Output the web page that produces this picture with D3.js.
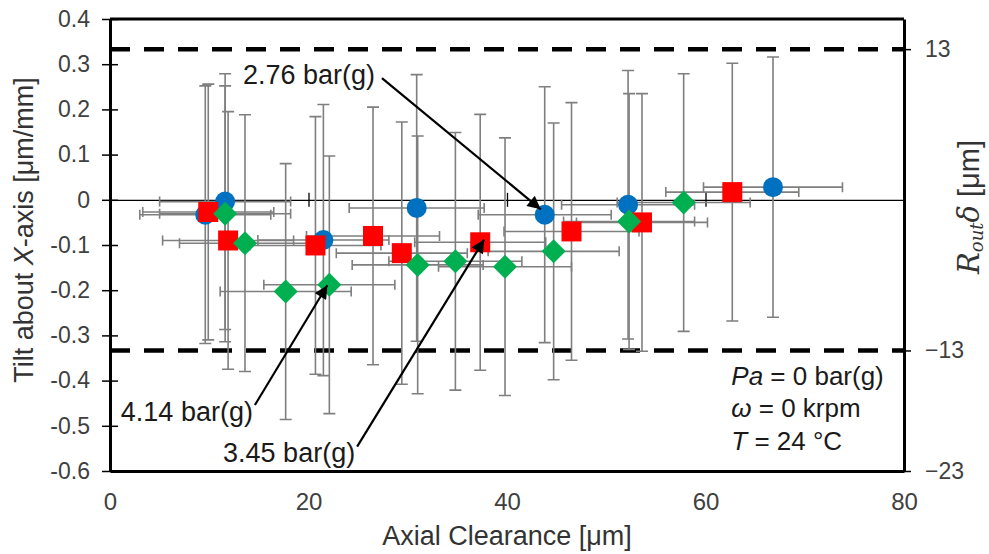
<!DOCTYPE html>
<html>
<head>
<meta charset="utf-8">
<script src="https://cdn.jsdelivr.net/npm/d3@7"></script>
<style>
  body { margin: 0; background: #fff; }
  svg { display: block; font-family: Arial, "Liberation Sans", sans-serif; }
</style>
</head>
<body>
<div id="chart"></div>
<script>
// ---- values ----
const seriesNames = ["2.76 bar(g)", "3.45 bar(g)", "4.14 bar(g)"];

// 2.76 bar(g) - blue circles
const clear276 = [9.6, 11.6, 21.5, 30.9, 43.8, 52.2, 66.8];
const tilt276 = [-0.033, -0.004, -0.089, -0.018, -0.033, -0.011, 0.028];
const clearErr276 = [6.6, 6.6, 6.6, 6.8, 6.7, 6.7, 7.0];
const tiltErr276 = [0.285, 0.283, 0.30, 0.295, 0.283, 0.297, 0.288];

// 3.45 bar(g) - red squares
const clear345 = [9.9, 11.9, 20.7, 26.5, 29.4, 37.3, 46.5, 53.6, 62.7];
const tilt345 = [-0.027, -0.090, -0.101, -0.080, -0.118, -0.094, -0.070, -0.050, 0.017];
const clearErr345 = [6.6, 6.6, 6.6, 6.7, 6.6, 6.6, 6.8, 6.6, 6.7];
const tiltErr345 = [0.283, 0.285, 0.285, 0.285, 0.29, 0.283, 0.285, 0.285, 0.285];

// 4.14 bar(g) - green diamonds
const clear414 = [11.6, 13.6, 17.7, 22.1, 31.0, 34.8, 39.8, 44.7, 52.3, 57.8];
const tilt414 = [-0.031, -0.096, -0.203, -0.188, -0.144, -0.136, -0.148, -0.114, -0.048, -0.006];
const clearErr414 = [6.6, 6.6, 6.6, 6.6, 6.6, 6.7, 6.7, 6.6, 6.6, 6.7];
const tiltErr414 = [0.283, 0.284, 0.283, 0.285, 0.285, 0.285, 0.285, 0.284, 0.283, 0.285];

// axes
const xTicks = [0, 20, 40, 60, 80];
const yTicks = [0.4, 0.3, 0.2, 0.1, 0, -0.1, -0.2, -0.3, -0.4, -0.5, -0.6];
const rightTicks = [13, -13, -23.4];
const limitLines = [13, -13];   // R_out*delta limits, right axis units

const conditions = ["Pa", " = 0 bar(g)", "ω", " = 0 krpm", "T", " = 24 °C"];

// ---- layout ----
const W = 989, H = 554;
const margin = { top: 19, right: 85, bottom: 83, left: 110 };
const width = W - margin.left - margin.right;
const height = H - margin.top - margin.bottom;

const colors = ["#0070C0", "#FF0000", "#00B050"];
const shapes = ["circle", "square", "diamond"];

const svg = d3.select("#chart").append("svg")
    .attr("width", W)
    .attr("height", H)
    .attr("viewBox", [0, 0, W, H]);

const chart = svg.append("g")
    .attr("transform", `translate(${margin.left},${margin.top})`);

const x = d3.scaleLinear().domain([0, 80]).range([0, width]);
const y = d3.scaleLinear().domain([-0.6, 0.4]).range([height, 0]);
const yR = d3.scaleLinear().domain([-23.4, 15.6]).range([height, 0]);

// build a point table from the arrays
const seriesData = [
    [clear276, tilt276, clearErr276, tiltErr276],
    [clear345, tilt345, clearErr345, tiltErr345],
    [clear414, tilt414, clearErr414, tiltErr414]
];
const points = [];
seriesData.forEach((s, si) => {
    s[0].forEach((cx, i) => {
        points.push({ series: si, name: seriesNames[si], x: cx, y: s[1][i], xe: s[2][i], ye: s[3][i] });
    });
});

// dashed limit lines
chart.selectAll(".limit")
    .data(limitLines)
    .join("line")
    .attr("class", "limit")
    .attr("x1", 0)
    .attr("x2", width)
    .attr("y1", d => yR(d))
    .attr("y2", d => yR(d))
    .attr("stroke", "#000")
    .attr("stroke-width", 4.5)
    .attr("stroke-dasharray", "20,14");

// x axis through zero
chart.append("g")
    .attr("transform", `translate(0,${y(0)})`)
    .call(d3.axisBottom(x).tickValues(xTicks).tickFormat("").tickSizeOuter(0))
    .call(g => g.select(".domain").attr("stroke-width", 1.3))
    .call(g => g.selectAll(".tick line").attr("y1", -7).attr("y2", 7).attr("stroke-width", 1.3));

// error bars (under the markers)
const eb = chart.append("g")
    .attr("stroke", "#7f7f7f")
    .attr("stroke-width", 1.6)
    .attr("fill", "none");

points.forEach(p => {
    const px = x(p.x), py = y(p.y);
    const top = y(p.y + p.ye), bot = y(p.y - p.ye);
    const left = x(p.x - p.xe), right = x(p.x + p.xe);
    eb.append("path").attr("d",
        `M${px},${top}V${bot}M${px - 6},${top}H${px + 6}M${px - 6},${bot}H${px + 6}` +
        `M${left},${py}H${right}M${left},${py - 5}V${py + 5}M${right},${py - 5}V${py + 5}`);
});

// markers
const marks = chart.append("g");
points.forEach(p => {
    const px = x(p.x), py = y(p.y);
    const shape = shapes[p.series];
    if (shape === "circle") {
        marks.append("circle").attr("cx", px).attr("cy", py).attr("r", 10).attr("fill", colors[p.series]);
    } else if (shape === "square") {
        marks.append("rect").attr("x", px - 10).attr("y", py - 10).attr("width", 20).attr("height", 20).attr("fill", colors[p.series]);
    } else {
        marks.append("path")
            .attr("d", `M${px},${py - 12}L${px + 12},${py}L${px},${py + 12}L${px - 12},${py}Z`)
            .attr("fill", colors[p.series]);
    }
});

// frame: top and bottom border
chart.append("line").attr("x1", 0).attr("x2", width).attr("y1", 0).attr("y2", 0)
    .attr("stroke", "#000").attr("stroke-width", 3);

const xAxis = chart.append("g")
    .attr("transform", `translate(0,${height})`)
    .style("color", "#000")
    .call(d3.axisBottom(x).tickValues(xTicks).tickSize(0).tickSizeOuter(0))
    .call(g => g.select(".domain").attr("stroke-width", 3));
xAxis.selectAll("text")
    .attr("dy", null)
    .attr("y", 39)
    .attr("fill", "#404040")
    .style("font-size", "24px");

// left axis
const yAxis = chart.append("g")
    .style("color", "#000")
    .call(d3.axisLeft(y).tickValues(yTicks).tickSize(8).tickPadding(12).tickSizeOuter(0)
        .tickFormat(d => String(d)))
    .call(g => g.select(".domain").attr("stroke-width", 3))
    .call(g => g.selectAll(".tick line").attr("x1", 8).attr("stroke-width", 1.5));
yAxis.selectAll("text")
    .attr("fill", "#404040")
    .style("font-size", "23px");

// right axis
const rAxis = chart.append("g")
    .attr("transform", `translate(${width},0)`)
    .style("color", "#000")
    .call(d3.axisRight(yR).tickValues(rightTicks).tickSize(7).tickPadding(14).tickSizeOuter(0)
        .tickFormat(d3.format(".0f")))
    .call(g => g.select(".domain").attr("stroke-width", 3))
    .call(g => g.selectAll(".tick line").attr("x1", -7).attr("stroke-width", 1.5));
rAxis.selectAll("text")
    .attr("fill", "#404040")
    .style("font-size", "23px");

// axis titles
svg.append("text")
    .attr("x", margin.left + width / 2)
    .attr("y", 545)
    .attr("text-anchor", "middle")
    .attr("fill", "#333")
    .style("font-size", "27px")
    .text("Axial Clearance [μm]");

const lt = svg.append("text")
    .attr("transform", "translate(33,230) rotate(-90)")
    .attr("text-anchor", "middle")
    .attr("fill", "#333")
    .style("font-size", "27px");
lt.append("tspan").text("Tilt about ");
lt.append("tspan").style("font-style", "italic").text("X");
lt.append("tspan").text("-axis [μm/mm]");

const rt = svg.append("text")
    .attr("transform", "translate(979,207) rotate(-90)")
    .attr("text-anchor", "middle")
    .attr("fill", "#333")
    .style("font-size", "29px");
rt.append("tspan").style("font-family", "'DejaVu Serif', serif").style("font-style", "italic").text("R");
rt.append("tspan").style("font-family", "'DejaVu Serif', serif").style("font-style", "italic")
    .style("font-size", "18px").attr("dy", 4).text("out");
rt.append("tspan").style("font-family", "'DejaVu Serif', serif").style("font-style", "italic")
    .attr("dy", -4).text("δ");
rt.append("tspan").text(" [μm]");

// pressure annotations (placed in data units)
const labelPos = [
    { text: seriesNames[0], tx: 26.7, ty: 0.257, from: [27.4, 0.269], to: [43.4, -0.021] },
    { text: seriesNames[1], tx: 24.7, ty: -0.579, from: [24.9, -0.546], to: [37.7, -0.088] },
    { text: seriesNames[2], tx: 14.4, ty: -0.49, from: [14.6, -0.454], to: [21.9, -0.189] }
];

svg.append("defs").append("marker")
    .attr("id", "arrow")
    .attr("viewBox", "0 0 10 10")
    .attr("refX", 10)
    .attr("refY", 5)
    .attr("markerWidth", 7)
    .attr("markerHeight", 6)
    .attr("markerUnits", "strokeWidth")
    .attr("orient", "auto")
    .append("path")
    .attr("d", "M0,0L10,5L0,10Z")
    .attr("fill", "#000");

chart.selectAll(".arrow")
    .data(labelPos)
    .join("line")
    .attr("class", "arrow")
    .attr("x1", d => x(d.from[0]))
    .attr("y1", d => y(d.from[1]))
    .attr("x2", d => x(d.to[0]))
    .attr("y2", d => y(d.to[1]))
    .attr("stroke", "#000")
    .attr("stroke-width", 2.2)
    .attr("marker-end", "url(#arrow)");

chart.selectAll(".pres-label")
    .data(labelPos)
    .join("text")
    .attr("class", "pres-label")
    .attr("x", d => x(d.tx))
    .attr("y", d => y(d.ty))
    .attr("text-anchor", "end")
    .attr("fill", "#1a1a1a")
    .style("font-size", "27px")
    .text(d => d.text);

// test conditions
const cond = chart.append("text")
    .attr("x", x(62.6))
    .attr("y", y(-0.409))
    .attr("fill", "#1a1a1a")
    .style("font-size", "26px");
for (let i = 0; i < conditions.length; i += 2) {
    cond.append("tspan")
        .attr("x", x(62.6))
        .attr("dy", i === 0 ? 0 : 32.5)
        .style("font-style", "italic")
        .text(conditions[i]);
    cond.append("tspan").text(conditions[i + 1]);
}
</script>
</body>
</html>
